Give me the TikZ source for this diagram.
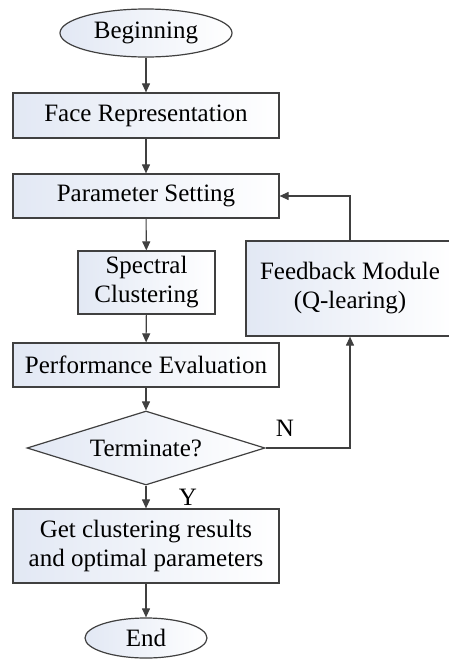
\documentclass[tikz,border=0pt]{standalone}
\usepackage{fontspec}
\setmainfont{Liberation Serif}
\usetikzlibrary{shapes.geometric,arrows.meta}
\definecolor{boxline}{HTML}{404040}
\definecolor{boxfill}{HTML}{E2E8F4}
\tikzset{
  stepbox/.style={draw=boxline, line width=1.2pt, left color=boxfill, right color=white,
    inner sep=2pt, align=center},
  termbox/.style={stepbox, ellipse},
  testbox/.style={stepbox, diamond, aspect=3.2, inner sep=0pt},
  flow/.style={draw=boxline, line width=1.1pt, -{Triangle[length=9pt,width=8pt]}},
}
\begin{document}
\begin{tikzpicture}[x=1pt, y=-1pt, font=\fontsize{25}{29}\selectfont]
    \useasboundingbox (0,0) rectangle (449,659);
    \node[termbox, minimum width=172pt, minimum height=48pt] (begin) at (146,33) {Beginning};
    \node[stepbox, minimum width=266pt, minimum height=45pt] (face) at (146,115.5) {Face Representation};
    \node[stepbox, minimum width=266pt, minimum height=44pt] (param) at (146,196) {Parameter Setting};
    \node[stepbox, minimum width=137pt, minimum height=63pt] (spectral) at (146.5,282.5) {Spectral\\Clustering};
    \node[stepbox, minimum width=208pt, minimum height=95pt] (feedback) at (350,288.5) {Feedback Module\\(Q-learing)};
    \node[stepbox, minimum width=266pt, minimum height=44pt] (perf) at (146,365) {Performance Evaluation};
    \node[testbox, minimum width=238pt, minimum height=74pt] (term) at (146,448) {Terminate?};
    \node[stepbox, minimum width=266pt, minimum height=74pt] (result) at (146,546) {Get clustering results\\and optimal parameters};
    \node[termbox, minimum width=122pt, minimum height=40pt] (end) at (146,638) {End};
    % main flow
    \draw[flow] (begin) -- (face);
    \draw[flow] (face) -- (param);
    \draw[flow] (param) -- (spectral);
    \draw[flow] (spectral) -- (perf);
    \draw[flow] (perf) -- (term);
    \draw[flow] (term) -- (result);
    \draw[flow] (result) -- (end);
    % feedback loop
    \draw[flow] (term.east) -| (feedback.south);
    \draw[flow] (feedback.north) |- (param.east);
    \node (no) at (285,428) {N};
    \node (yes) at (188,497) {Y};
\end{tikzpicture}
\end{document}
